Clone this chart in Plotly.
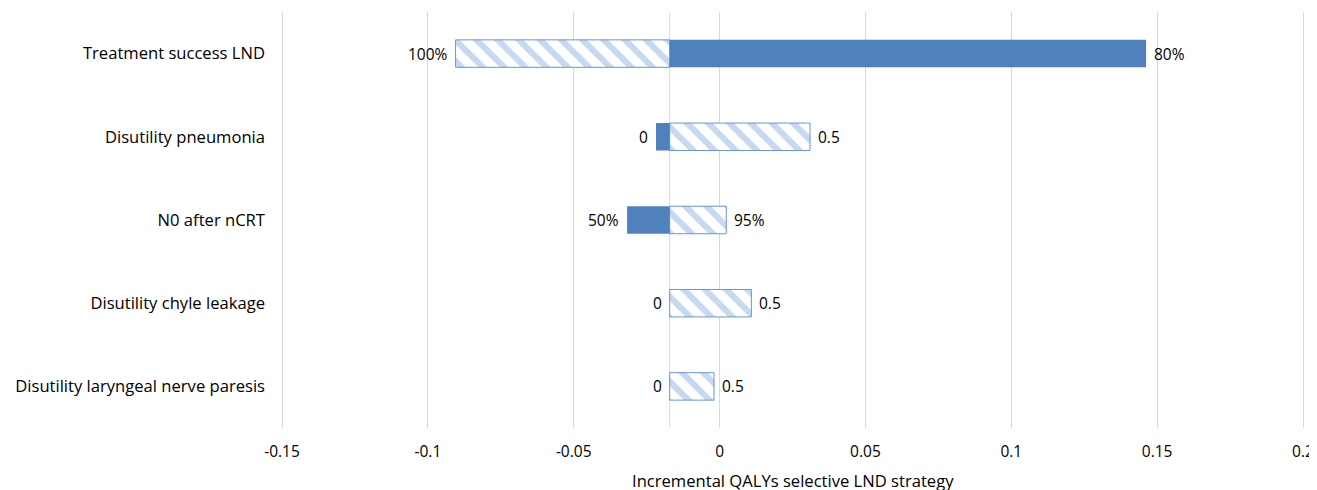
import plotly.graph_objects as go

# ---- data ----
categories = [
    "Treatment success LND",
    "Disutility pneumonia",
    "N0 after nCRT",
    "Disutility chyle leakage",
    "Disutility laryngeal nerve paresis",
]
base_value = -0.0171
low_results = [0.1462, -0.0218, -0.0317, -0.0171, -0.0171]
high_results = [-0.0905, 0.0310, 0.0023, 0.0109, -0.0019]
low_labels = ["80%", "0", "50%", "0", "0"]
high_labels = ["100%", "0.5", "95%", "0.5", "0.5"]
x_ticks = [-0.15, -0.1, -0.05, 0, 0.05, 0.1, 0.15, 0.2]
x_tick_text = ["-0.15", "-0.1", "-0.05", "0", "0.05", "0.1", "0.15", "0.2"]
axis_title = "Incremental QALYs selective LND strategy"

FONT = "Open Sans"
FS_TXT = 16.6
FS_NUM = 15.5
SOLID = "#4F81BD"
HATCH = "#8DB3E2"
EDGE = "#6A95CC"
GRID = "#D9D9D9"

# small padding so that the edge gridlines are drawn
X_MIN, X_MAX = -0.15, 0.2
PAD_PX = 3
pad = PAD_PX * (X_MAX - X_MIN) / 1021

fig = go.Figure()

fig.add_trace(go.Bar(
    y=categories,
    x=[v - base_value for v in high_results],
    base=base_value,
    orientation="h",
    width=0.33,
    marker=dict(
        color="white",
        line=dict(color=EDGE, width=1),
        pattern=dict(shape="\\", fgcolor=HATCH, bgcolor="white", size=15, solidity=0.42),
    ),
    showlegend=False,
    hoverinfo="skip",
))
fig.add_trace(go.Bar(
    y=categories,
    x=[v - base_value for v in low_results],
    base=base_value,
    orientation="h",
    width=0.33,
    marker=dict(color=SOLID, line=dict(width=0)),
    showlegend=False,
    hoverinfo="skip",
))

annotations = []
for cat, lo, hi, lt, ht in zip(categories, low_results, high_results, low_labels, high_labels):
    lo_right = lo > hi
    annotations.append(dict(
        x=lo, y=cat, xref="x", yref="y", text=lt, showarrow=False,
        xanchor="left" if lo_right else "right", xshift=6 if lo_right else -6,
        font=dict(family=FONT, size=FS_NUM, color="black"),
    ))
    annotations.append(dict(
        x=hi, y=cat, xref="x", yref="y", text=ht, showarrow=False,
        xanchor="right" if lo_right else "left", xshift=-6 if lo_right else 6,
        font=dict(family=FONT, size=FS_NUM, color="black"),
    ))
annotations.append(dict(
    x=0.5, y=-0.127, xref="paper", yref="paper", text=axis_title, showarrow=False,
    xanchor="center", yanchor="middle", font=dict(family=FONT, size=FS_TXT, color="black"),
))

fig.add_shape(type="line", xref="x", yref="paper", x0=base_value, x1=base_value, y0=0, y1=1,
              line=dict(color=GRID, width=1), layer="below")

fig.update_layout(
    width=1309, height=482,
    margin=dict(l=274 - PAD_PX, r=14 - PAD_PX, t=4, b=62),
    paper_bgcolor="white", plot_bgcolor="white",
    barmode="overlay",
    font=dict(family=FONT, size=FS_NUM, color="black"),
    annotations=annotations,
    xaxis=dict(
        range=[X_MIN - pad, X_MAX + pad], tickvals=x_ticks, ticktext=x_tick_text,
        showgrid=True, gridcolor=GRID, gridwidth=1, zeroline=False,
        showline=False, ticks="", ticklabelstandoff=12, automargin=False,
        ticklabeloverflow="allow",
        tickfont=dict(family=FONT, size=FS_NUM, color="black"),
    ),
    yaxis=dict(
        categoryorder="array", categoryarray=categories,
        range=[4.5, -0.5], showgrid=False, zeroline=False, showline=False,
        ticks="", ticklabelstandoff=13, automargin=False,
        tickfont=dict(family=FONT, size=FS_TXT, color="black"),
    ),
)

fig.write_html("out.html")
